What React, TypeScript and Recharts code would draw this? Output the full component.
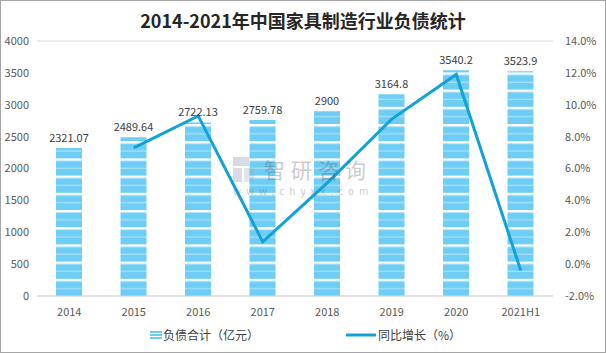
import React from 'react';
import {
  ComposedChart, Bar, Line, XAxis, YAxis, CartesianGrid, LabelList,
} from 'recharts';

const years = ['2014', '2015', '2016', '2017', '2018', '2019', '2020', '2021H1'];
const debt = [2321.07, 2489.64, 2722.13, 2759.78, 2900, 3164.8, 3540.2, 3523.9];
const growth: (number | null)[] = [null, 7.3, 9.3, 1.4, 5.1, 9.1, 11.9, -0.4];
const leftTicks = [0, 500, 1000, 1500, 2000, 2500, 3000, 3500, 4000];
const rightTicks = [-2, 0, 2, 4, 6, 8, 10, 12, 14];

const BAR_BLUE = '#6DCDF4';
const LINE_BLUE = '#12A2D6';
const FONT = '"Noto Sans CJK SC", "Noto Sans", sans-serif';

const chartData = years.map((y, i) => ({ year: y, debt: debt[i], growth: growth[i] }));

const StripeDefs = () => (
  <svg width={0} height={0} style={{ position: 'absolute' }}>
    <defs>
      <pattern id="barStripe" patternUnits="userSpaceOnUse" width={8} height={17.2} y={296}>
        <rect x={0} y={0} width={8} height={17.2} fill={BAR_BLUE} />
        <rect x={0} y={0} width={8} height={2.2} fill="#ffffff" />
        <rect x={0} y={2.2} width={8} height={0.8} fill="#C4ECFB" />
        <rect x={0} y={9.2} width={8} height={1.3} fill="#A8E0F8" />
      </pattern>
      <pattern id="legendStripe" patternUnits="userSpaceOnUse" width={8} height={3}>
        <rect x={0} y={0} width={8} height={3} fill={BAR_BLUE} />
        <rect x={0} y={2} width={8} height={1} fill="#ffffff" />
      </pattern>
    </defs>
  </svg>
);

export default function App() {
  return (
    <div style={{ position: 'fixed', left: 0, top: 0, width: 606, height: 353, background: '#fff', fontFamily: FONT }}>
      <StripeDefs />
      <div style={{ position: 'absolute', left: 0, top: 0, width: 604, height: 351, border: '1px solid #A6A6A6' }} />
      <div style={{ position: 'absolute', left: 0, top: 7, width: 606, textAlign: 'center', fontSize: 18, fontWeight: 'bold', color: '#262626', lineHeight: '26px' }}>
        2014-2021年中国家具制造行业负债统计
      </div>
      <ComposedChart
        width={606}
        height={353}
        data={chartData}
        margin={{ top: 41, right: 0, left: 0, bottom: 27 }}
        style={{ position: 'absolute', left: 0, top: 0 }}
      >
        <CartesianGrid vertical={false} stroke="#D9D9D9" />
        <XAxis
          dataKey="year"
          height={30}
          axisLine={{ stroke: '#D9D9D9' }}
          tickLine={false}
          tick={{ fontSize: 11, fill: '#595959', fontFamily: FONT }}
          tickMargin={6}
        />
        <YAxis
          yAxisId="left"
          width={37}
          domain={[0, 4000]}
          ticks={leftTicks}
          axisLine={false}
          tickLine={false}
          tick={{ fontSize: 11, fill: '#595959', fontFamily: FONT }}
          tickMargin={2}
        />
        <YAxis
          yAxisId="right"
          orientation="right"
          width={53}
          domain={[-2, 14]}
          ticks={rightTicks}
          axisLine={false}
          tickLine={false}
          tickFormatter={(v: number) => `${v.toFixed(1)}%`}
          tick={{ fontSize: 11, fill: '#595959', fontFamily: FONT }}
          tickMargin={6}
        />
        <Bar yAxisId="left" dataKey="debt" barSize={26} fill="url(#barStripe)" isAnimationActive={false}>
          <LabelList dataKey="debt" position="top" offset={6} style={{ fontSize: 11, fill: '#404040', fontFamily: FONT }} />
        </Bar>
        <Line
          yAxisId="right"
          dataKey="growth"
          stroke={LINE_BLUE}
          strokeWidth={3}
          dot={false}
          activeDot={false}
          type="linear"
          isAnimationActive={false}
        />
      </ComposedChart>
      {/* watermark */}
      <div style={{ position: 'absolute', left: 233, top: 156, opacity: 0.3, pointerEvents: 'none' }}>
        <svg width={22} height={26} style={{ position: 'absolute', left: 0, top: 1 }}>
          <rect x={0} y={0} width={16} height={9} fill="#7A8BB0" />
          <rect x={0} y={11} width={9} height={14} fill="#7A8BB0" />
          <rect x={11} y={11} width={10} height={14} fill="#9AA7C4" />
        </svg>
        <div style={{ position: 'absolute', left: 31, top: 2, height: 22, fontSize: 21, color: '#555', whiteSpace: 'nowrap', letterSpacing: 6, lineHeight: '22px' }}>
          智研咨询
        </div>
        <div style={{ position: 'absolute', left: 0, top: 29, height: 11, fontSize: 10, color: '#555', whiteSpace: 'nowrap', letterSpacing: 5, lineHeight: '11px' }}>
          www.chyxx.com
        </div>
      </div>
      {/* legend */}
      <div style={{ position: 'absolute', left: 0, top: 326, width: 606, height: 18, fontSize: 12, color: '#404040' }}>
        <svg width={12} height={9} style={{ position: 'absolute', left: 150, top: 5 }}>
          <rect x={0} y={0} width={12} height={9} fill="url(#legendStripe)" />
        </svg>
        <span style={{ position: 'absolute', left: 163, top: 0, lineHeight: '18px', whiteSpace: 'nowrap' }}>负债合计（亿元）</span>
        <svg width={30} height={6} style={{ position: 'absolute', left: 346, top: 6 }}>
          <line x1={0} y1={3} x2={30} y2={3} stroke={LINE_BLUE} strokeWidth={3} />
        </svg>
        <span style={{ position: 'absolute', left: 378, top: 0, lineHeight: '18px', whiteSpace: 'nowrap' }}>同比增长（%）</span>
      </div>
    </div>
  );
}
